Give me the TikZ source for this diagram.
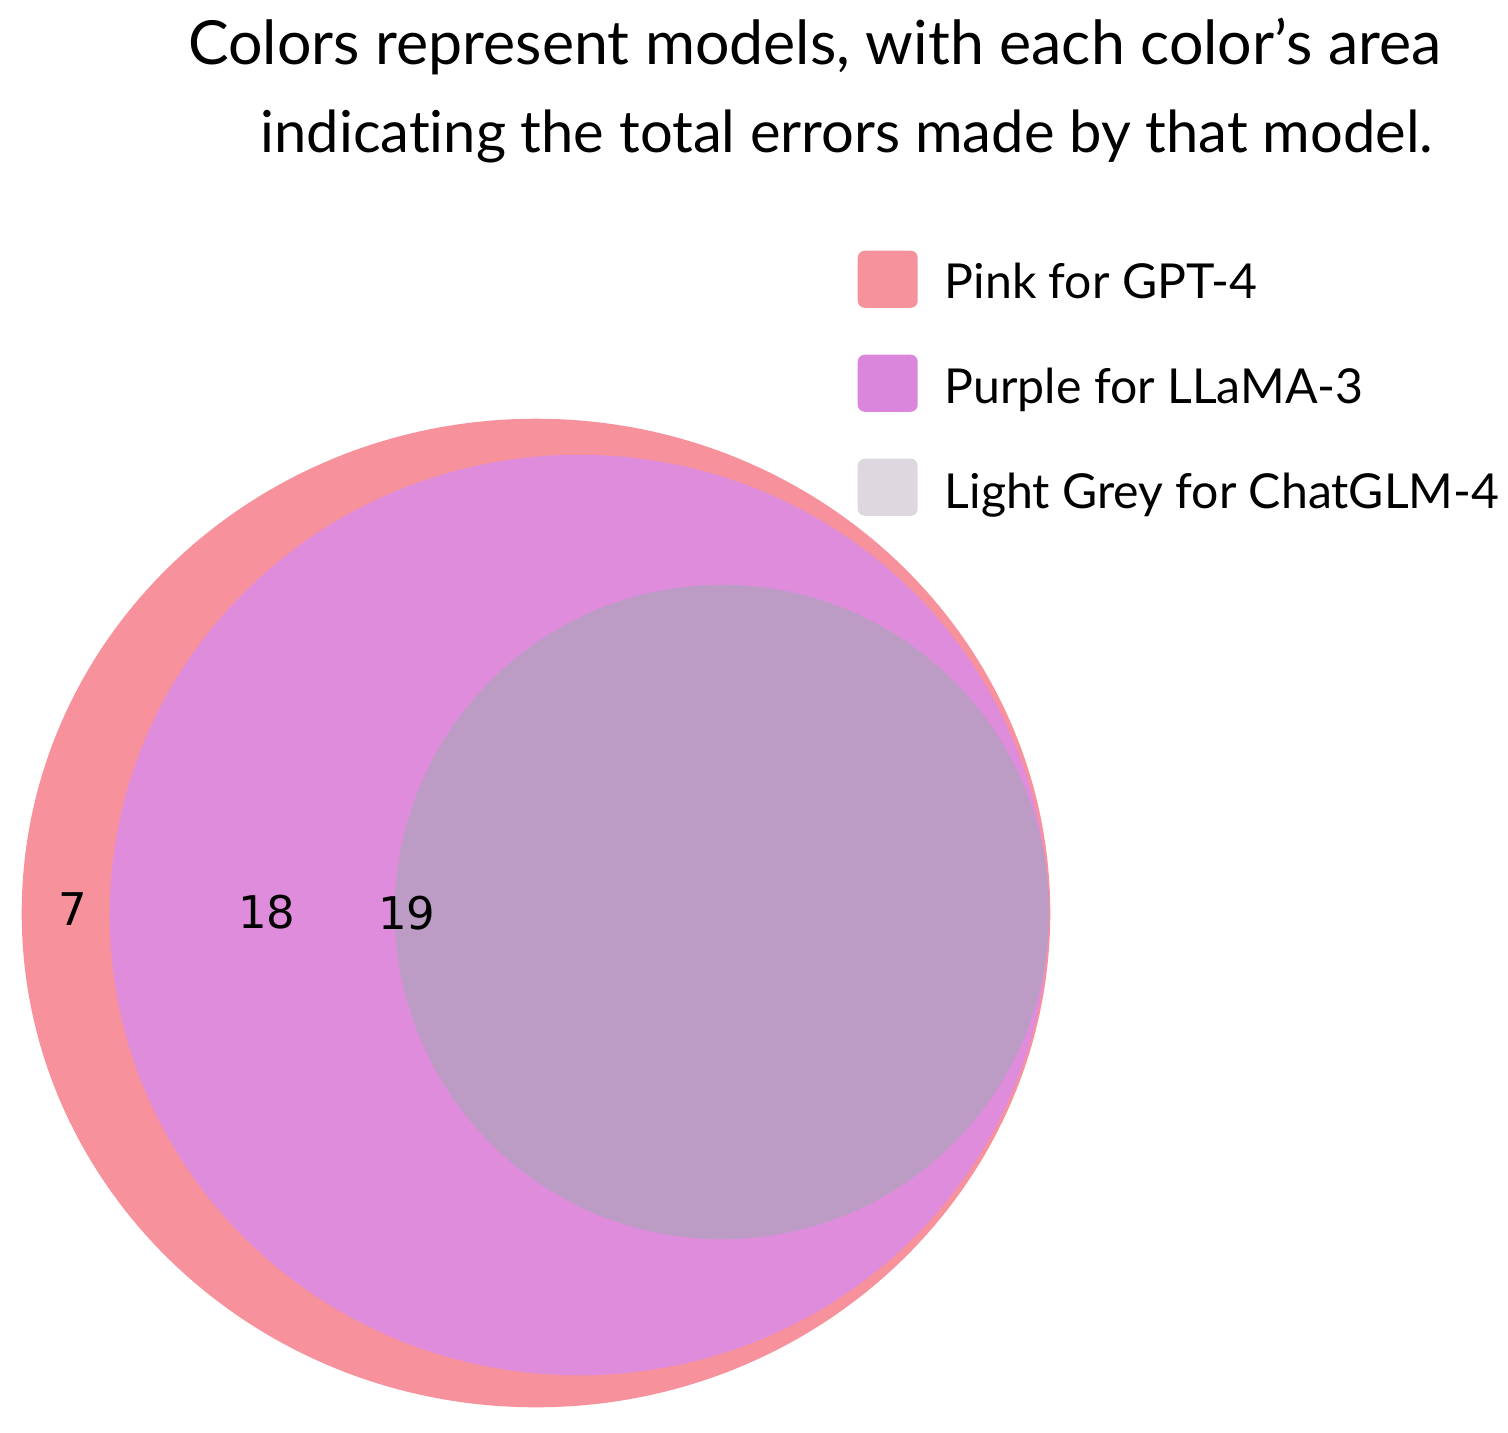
\documentclass[tikz,border=0pt]{standalone}
\usepackage{fontspec}
\usepackage{graphicx}
\setmainfont{Lato}[Ligatures=NoCommon]
\newfontfamily\numfont{DejaVu Sans}
\definecolor{pinkc}{RGB}{247,145,155}
\definecolor{purplec}{RGB}{224,140,220}
\definecolor{greyc}{RGB}{188,156,196}
\definecolor{legpink}{RGB}{246,146,155}
\definecolor{legpurple}{RGB}{218,134,220}
\definecolor{leggrey}{RGB}{221,216,224}
\tikzset{
  legbox/.style={minimum width=0.6cm, minimum height=0.57cm, rounded corners=0.07cm, inner sep=0pt, anchor=north west},
  legtext/.style={anchor=base west, inner sep=0pt, font=\fontsize{13.7pt}{16pt}\selectfont},
  numlbl/.style={anchor=base, inner sep=0pt, font=\numfont\fontsize{12.8pt}{15pt}\selectfont, text=black},
  titletext/.style={anchor=base east, inner sep=0pt}
}
\begin{document}
\begin{tikzpicture}[x=0.01cm,y=-0.01cm]
\useasboundingbox (0,0) rectangle (1508,1432);
% circles
\fill[pinkc] (536,913) ellipse [x radius=5.14cm, y radius=4.94cm];
\fill[purplec] (579,915) ellipse [x radius=4.69cm, y radius=4.60cm];
\fill[greyc] (722,912) circle [radius=3.27cm];
% numbers
\node[numlbl] (n7) at (73,925) {7};
\node[numlbl] (n18) at (267,928) {18};
\node[numlbl] (n19) at (407,929) {19};
% title
\node[titletext] (t1) at (1442,64) {\resizebox{12.52cm}{!}{Colors represent models, with each color’s area}};
\node[titletext] (t2) at (1434,152) {\resizebox{11.72cm}{!}{indicating the total errors made by that model.}};
% legend
\node[legbox, fill=legpink] (b1) at (857,250) {};
\node[legbox, fill=legpurple] (b2) at (857,354) {};
\node[legbox, fill=leggrey] (b3) at (857,458) {};
\node[legtext] (l1) at (944,298) {Pink for GPT-4};
\node[legtext] (l2) at (944,403) {Purple for LLaMA-3};
\node[legtext] (l3) at (944,508) {Light Grey for ChatGLM-4};
\end{tikzpicture}
\end{document}
